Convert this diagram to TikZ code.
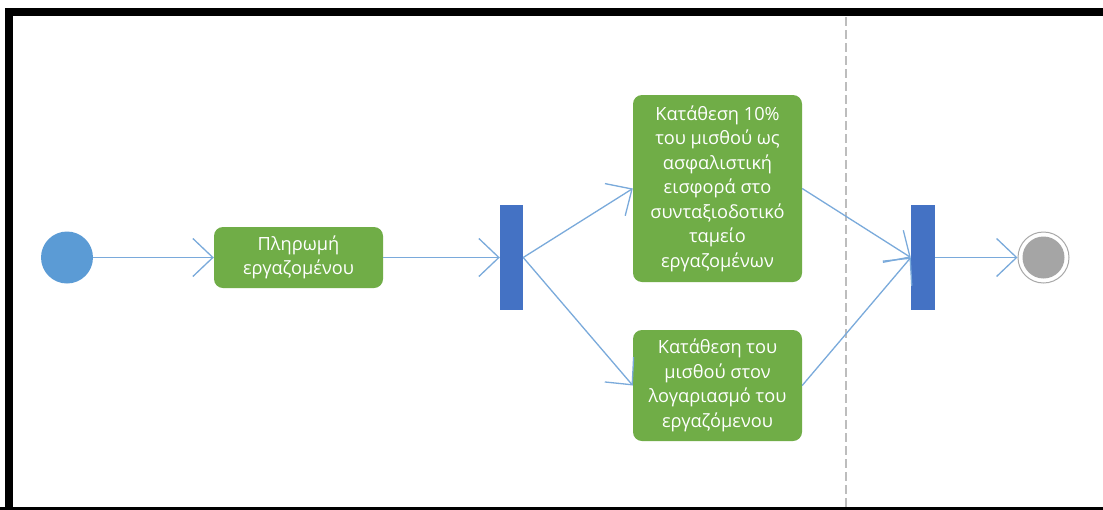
\documentclass[tikz,border=0pt]{standalone}
\usepackage{fontspec}
\setmainfont{Open Sans}
\usetikzlibrary{arrows.meta}
\definecolor{actgreen}{HTML}{70AD47}
\definecolor{barblue}{HTML}{4472C4}
\definecolor{startblue}{HTML}{5B9BD5}
\definecolor{flowblue}{HTML}{7AAADB}
\definecolor{endgray}{HTML}{A5A5A5}
\definecolor{ringgray}{HTML}{A8A8A8}
\definecolor{lanegray}{HTML}{BDBDBD}
\begin{document}
\begin{tikzpicture}[x=1pt,y=-1pt,
  activity/.style={fill=actgreen, rounded corners=9pt, text=white,
    font=\fontsize{18.2}{24.5}\selectfont, align=center, inner sep=0pt,
    minimum width=169pt},
  flow/.style={draw=flowblue, line width=1.3pt,
    -{Straight Barb[length=20pt,width=38pt,line width=1.3pt]}},
  forkbar/.style={fill=barblue, minimum width=23pt, minimum height=105pt,
    inner sep=0pt},
]
\useasboundingbox (0,0) rectangle (1103,509);
\clip (0,0) rectangle (1103,509);
\fill[white] (0,0) rectangle (1103,509);

% frame
\draw[line width=8pt] (9,1200) -- (9,12) -- (1200,12);
\draw[line width=8pt] (0,511) -- (1200,511);

% lane separator
\draw[lanegray, line width=1.2pt, dash pattern=on 9pt off 4pt] (846,17) -- (846,509);

% nodes
\node[circle, fill=startblue, minimum size=52pt, inner sep=0pt] (start) at (67,257.5) {};
\node[activity, minimum height=61pt] (pay) at (298.5,257.5) {Πληρωμή\\εργαζομένου};
\node[forkbar] (fork) at (511.5,257.5) {};
\node[activity, minimum height=187pt] (fund) at (717.5,188.5)
  {Κατάθεση 10\%\\του μισθού ως\\ασφαλιστική\\εισφορά στο\\συνταξιοδοτικό\\ταμείο\\εργαζομένων};
\node[activity, minimum height=111pt] (account) at (717.5,385.5)
  {Κατάθεση του\\μισθού στον\\λογαριασμό του\\εργαζόμενου};
\node[forkbar, minimum width=24pt] (join) at (923,257.5) {};
\node[circle, draw=ringgray, line width=1pt, fill=white, minimum size=51pt, inner sep=0pt] (final) at (1043.5,257.5) {};
\node[circle, fill=endgray, minimum size=42pt, inner sep=0pt] (finaldot) at (final.center) {};

% flows
\draw[flow] (start.east) -- (pay.west);
\draw[flow] (pay.east) -- (fork.west);
\draw[flow] (fork.east) -- (fund.west);
\draw[flow] (fork.east) -- (account.west);
\draw[flow] (fund.east) -- (join.west);
\draw[flow] (account.east) -- (join.west);
\draw[flow] (join.east) -- (final.west);
\end{tikzpicture}
\end{document}
